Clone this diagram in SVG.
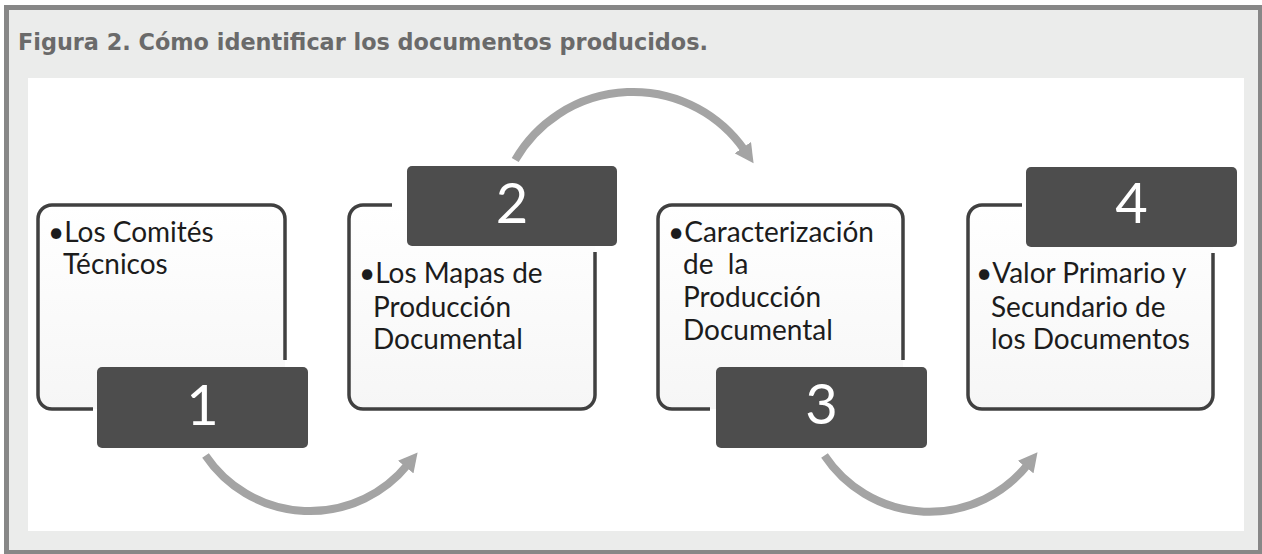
<svg xmlns="http://www.w3.org/2000/svg" width="1262" height="554" viewBox="0 0 1262 554">
  <defs>
    <linearGradient id="boxfill" x1="0" y1="0" x2="0" y2="1">
      <stop offset="0" stop-color="#ffffff"/>
      <stop offset="1" stop-color="#f6f6f6"/>
    </linearGradient>
    <marker id="head" markerUnits="userSpaceOnUse" markerWidth="20" markerHeight="20" viewBox="0 0 18 18" refX="3" refY="9" orient="auto">
      <path d="M0,0 L17,9 L0,18 z" fill="#a4a4a4"/>
    </marker>
    <style>
      .title{font-family:"DejaVu Sans Condensed","DejaVu Sans",sans-serif;font-weight:bold;font-size:23px;fill:#6a6a6a}
      .frame{fill:url(#boxfill);stroke:none}
      .outline{fill:none;stroke:#404040;stroke-width:3.5;stroke-linecap:butt}
      .tab{fill:#4d4d4d}
      .num{font-family:Lato,"Open Sans",sans-serif;font-size:56px;fill:#ffffff;text-anchor:middle}
      .txt{font-family:Lato,"Open Sans",sans-serif;font-size:28px;fill:#1c1c1c}
      .arc{fill:none;stroke:#a4a4a4;stroke-width:8;marker-end:url(#head)}
    </style>
  </defs>

  <rect x="0" y="0" width="1262" height="554" fill="#ffffff"/>
  <rect x="6.5" y="7.5" width="1254" height="545" fill="#ebeceb" stroke="#878787" stroke-width="5"/>
  <rect x="28" y="78" width="1216" height="453" fill="#ffffff"/>

  <text class="title" x="18" y="50" textLength="690" lengthAdjust="spacingAndGlyphs">Figura 2. Cómo identificar los documentos producidos.</text>

  <g id="connectors">
    <path class="arc" d="M205.5,455.5 A126,126 0 0 0 407.8,464.5"/>
    <path class="arc" d="M515.2,160 A136,136 0 0 1 744.7,150.4"/>
    <path class="arc" d="M824.5,455.5 A126,126 0 0 0 1027.8,464.5"/>
  </g>

  <g id="node1">
    <rect class="frame" x="38" y="205" width="247" height="204" rx="14"/>
    <path class="outline" d="M93,409 H52 A14,14 0 0 1 38,395 V219 A14,14 0 0 1 52,205 H271 A14,14 0 0 1 285,219 V360"/>
    <text class="txt"><tspan x="48" y="242">•Los Comités</tspan><tspan x="63" y="274">Técnicos</tspan></text>
    <rect class="tab" x="97" y="367" width="211" height="81" rx="5"/>
    <text class="num" x="202.5" y="425">1</text>
  </g>

  <g id="node2">
    <rect class="frame" x="349" y="205" width="246" height="204" rx="14"/>
    <path class="outline" d="M392,205 H363 A14,14 0 0 0 349,219 V395 A14,14 0 0 0 363,409 H581 A14,14 0 0 0 595,395 V252"/>
    <rect class="tab" x="407" y="166" width="210" height="80" rx="5"/>
    <text class="num" x="512" y="223">2</text>
    <text class="txt"><tspan x="359" y="283">•Los Mapas de</tspan><tspan x="373" y="317">Producción</tspan><tspan x="373" y="349">Documental</tspan></text>
  </g>

  <g id="node3">
    <rect class="frame" x="658" y="205" width="245" height="204" rx="14"/>
    <path class="outline" d="M710,409 H672 A14,14 0 0 1 658,395 V219 A14,14 0 0 1 672,205 H889 A14,14 0 0 1 903,219 V360"/>
    <text class="txt" xml:space="preserve"><tspan x="668" y="242">•Caracterización</tspan><tspan x="683" y="274">de  la</tspan><tspan x="683" y="307">Producción</tspan><tspan x="683" y="340">Documental</tspan></text>
    <rect class="tab" x="716" y="367" width="211" height="81" rx="5"/>
    <text class="num" x="821.5" y="424">3</text>
  </g>

  <g id="node4">
    <rect class="frame" x="968" y="205" width="245" height="204" rx="14"/>
    <path class="outline" d="M1022,205 H982 A14,14 0 0 0 968,219 V395 A14,14 0 0 0 982,409 H1199 A14,14 0 0 0 1213,395 V253"/>
    <rect class="tab" x="1026" y="167" width="211" height="80" rx="5"/>
    <text class="num" x="1131.5" y="223">4</text>
    <text class="txt"><tspan x="976" y="283">•Valor Primario y</tspan><tspan x="991" y="317">Secundario de</tspan><tspan x="991" y="349">los Documentos</tspan></text>
  </g>
</svg>
